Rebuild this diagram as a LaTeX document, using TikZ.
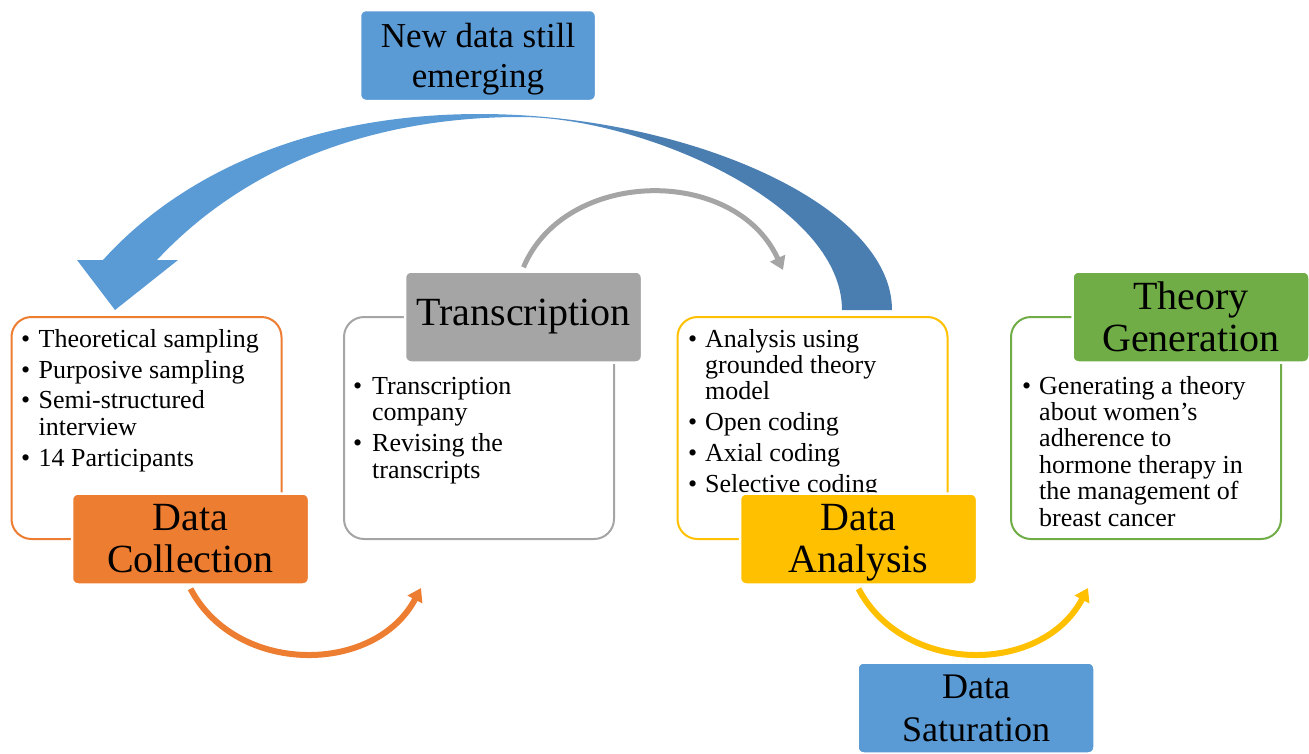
\documentclass[tikz,border=0pt]{standalone}
\usepackage{fontspec}
\setmainfont{Liberation Serif}
\usetikzlibrary{arrows.meta}
\definecolor{cOrange}{HTML}{ED7D31}
\definecolor{cGrey}{HTML}{A5A5A5}
\definecolor{cYellow}{HTML}{FFC000}
\definecolor{cGreen}{HTML}{70AD47}
\definecolor{cBlue}{HTML}{5B9BD5}
\definecolor{cBlueD}{HTML}{4A7EB1}
\pgfdeclarehorizontalshading{bluearrow}{100bp}{color(0bp)=(cBlue); color(52bp)=(cBlue); color(60bp)=(cBlueD); color(100bp)=(cBlueD)}
\newcommand{\bodyfont}{\fontsize{26}{26.4}\selectfont}
\newcommand{\hdfont}{\fontsize{40}{42}\selectfont}
\newcommand{\bul}[1]{\makebox[#1][l]{\textbullet}}
\begin{document}
\begin{tikzpicture}[x=1pt,y=-1pt,
  contentbox/.style={draw=#1, line width=2pt, rounded corners=20pt, fill=white,
    minimum width=270pt, minimum height=222pt, inner sep=0pt},
  labelbox/.style={fill=#1, draw=white, line width=2.5pt, rounded corners=6pt,
    minimum width=237pt, minimum height=91pt, align=center, font=\hdfont, inner sep=0pt},
  bodytext/.style={anchor=north west, inner sep=0pt, align=left, font=\bodyfont},
  flow/.style={line width=6pt, -{Triangle[length=13pt,width=16pt]}}]
\useasboundingbox (0,0) rectangle (1309,753);

% big curved return arrow
\shade[shading=bluearrow]
  (892,310) .. controls (892,202) and (680,114) .. (480,114)
  .. controls (300,114) and (175,180) .. (103,260)
  -- (77,260) -- (115,310) -- (178,260) -- (157,260)
  .. controls (260,150) and (400,117) .. (520,117)
  .. controls (640,117) and (842,203) .. (842,310)
  -- cycle;

% content boxes
\node[contentbox=cOrange] (dcbox) at (146.5,428) {};
\node[contentbox=cGrey]   (tcbox) at (479,428) {};
\node[contentbox=cYellow] (dabox) at (812.5,428) {};
\node[contentbox=cGreen]  (tgbox) at (1146,428) {};

% content text
\node[bodytext] (dctext) at (21,328.5) {\strut\bul{17.5pt}Theoretical sampling\\[4.5pt]
  \bul{17.5pt}Purposive sampling\\[4.5pt]
  \bul{17.5pt}Semi-structured\\
  \hspace*{17.5pt}interview\\[4.5pt]
  \bul{17.5pt}14 Participants};
\node[bodytext] (tctext) at (353,375.5) {\strut\bul{19pt}Transcription\\
  \hspace*{19pt}company\\[5pt]
  \bul{19pt}Revising the\\
  \hspace*{19pt}transcripts};
\node[bodytext] (datext) at (688,328.5) {\strut\bul{17pt}Analysis using\\
  \hspace*{17pt}grounded theory\\
  \hspace*{17pt}model\\[4.5pt]
  \bul{17pt}Open coding\\[4.5pt]
  \bul{17pt}Axial coding\\[4.5pt]
  \bul{17pt}Selective coding};
\node[bodytext] (tgtext) at (1022,375.5) {\strut\bul{17pt}Generating a theory\\
  \hspace*{17pt}about women’s\\
  \hspace*{17pt}adherence to\\
  \hspace*{17pt}hormone therapy in\\
  \hspace*{17pt}the management of\\
  \hspace*{17pt}breast cancer};

% label boxes
\node[labelbox=cOrange] (dclab) at (190.5,539) {Data\\Collection};
\node[labelbox=cGrey]   (tclab) at (523.5,317) {Transcription};
\node[labelbox=cYellow] (dalab) at (858.5,539) {Data\\Anal\smash{y}sis};
\node[labelbox=cGreen]  (tglab) at (1191,317) {Theory\\Generation};
\node[labelbox=cBlue, minimum width=236pt, font=\fontsize{35}{40}\selectfont] (newlab) at (478,55.5) {New data still\\emer\smash{g}in\smash{g}};
\node[labelbox=cBlue, font=\fontsize{36}{43}\selectfont] (satlab) at (976,708) {Data\\Saturation};

% connector end points
\coordinate (oe) at (421,588);
\coordinate (ye) at (1088,588);
\coordinate (ge) at (783,270);

% connectors
\draw[flow, draw=cOrange] ([yshift=-3pt]dclab.south) .. controls +(46,87) and +(-46,87) .. (oe);
\draw[flow, draw=cYellow] ([yshift=-3pt]dalab.south) .. controls +(46,87) and +(-46,87) .. (ye);
\draw[flow, line width=5pt, draw=cGrey] ([yshift=3pt]tclab.north) .. controls +(41.5,-99) and +(-48,-105) .. (ge);
\end{tikzpicture}
\end{document}
